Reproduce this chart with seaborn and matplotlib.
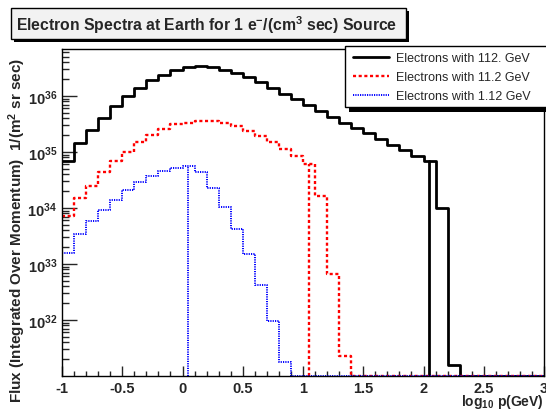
import numpy as np
import pandas as pd
import matplotlib
matplotlib.use("Agg")
import matplotlib.pyplot as plt
import seaborn as sns
from matplotlib.lines import Line2D
from matplotlib.patches import Rectangle
from matplotlib.ticker import FixedLocator, LogLocator, MultipleLocator, NullFormatter, FuncFormatter

# binning in log10 p(GeV): 40 bins, 0.1 wide
n_bins = 40
logp_range = (-1.0, 3.0)
bin_edges = np.linspace(logp_range[0], logp_range[1], n_bins + 1)

source_energy_gev = [112.0, 11.2, 1.12]
series_labels = ["Electrons with 112. GeV", "Electrons with 11.2 GeV", "Electrons with 1.12 GeV"]

# flux per bin (0 = empty bin)
flux_112 = [6.9e34, 1.43e35, 2.5e35, 4.1e35, 6.5e35, 9.8e35, 1.41e36, 1.9e36, 2.37e36, 2.88e36,
            3.24e36, 3.39e36, 3.24e36, 2.88e36, 2.57e36, 2.19e36, 1.78e36, 1.41e36, 1.1e36, 8.7e35,
            6.8e35, 5.4e35, 4.2e35, 3.35e35, 2.72e35, 2.14e35, 1.7e35, 1.32e35, 1.1e35, 8.5e34,
            6.9e34, 9.8e33, 1.6e31, 0, 0, 0, 0, 0, 0, 0]
flux_11 = [7.2e33, 1.48e34, 2.5e34, 4.4e34, 6.8e34, 1.02e35, 1.48e35, 2.04e35, 2.57e35, 3.16e35,
           3.35e35, 3.6e35, 3.63e35, 3.3e35, 2.9e35, 2.37e35, 1.95e35, 1.48e35, 1.12e35, 8.5e34,
           6.0e34, 1.62e34, 6.6e32, 2.3e31, 0, 0, 0, 0, 0, 0,
           0, 0, 0, 0, 0, 0, 0, 0, 0, 0]
flux_1 = [1.58e33, 3.4e33, 5.8e33, 9.1e33, 1.38e34, 2.1e34, 2.9e34, 3.7e34, 4.6e34, 5.2e34,
          5.6e34, 4.4e34, 2.3e34, 1.05e34, 4.3e33, 1.48e33, 4.2e32, 9.5e31, 1.8e31, 0,
          0, 0, 0, 0, 0, 0, 0, 0, 0, 0,
          0, 0, 0, 0, 0, 0, 0, 0, 0, 0]

y_min, y_max = 1e31, 6.9e36

sns.set_style("ticks")
plt.rcParams["font.family"] = ["Liberation Sans", "DejaVu Sans"]
plt.rcParams["mathtext.fontset"] = "custom"
plt.rcParams["mathtext.rm"] = "Liberation Sans"
plt.rcParams["mathtext.it"] = "Liberation Sans:italic"
plt.rcParams["mathtext.bf"] = "Liberation Sans:bold"
plt.rcParams["axes.unicode_minus"] = False

W, H = 546, 410
fig = plt.figure(figsize=(W / 100, H / 100), dpi=100)
ax = fig.add_axes([62 / W, 1 - 377 / H, (544 - 62) / W, (377 - 50) / H])
ax.set_yscale("log")

styles = [
    dict(color="black", linewidth=2.0, linestyle="-"),
    dict(color="#ff0000", linewidth=1.7, linestyle=(0, (1.3, 1.1))),
    dict(color="#0000ff", linewidth=1.4, linestyle=(0, (0.6, 0.6))),
]

centers = (bin_edges[:-1] + bin_edges[1:]) / 2
for flux, e0, st in zip([flux_112, flux_11, flux_1], source_energy_gev, styles):
    flux = np.array(flux, dtype=float)
    df = pd.DataFrame({"logp": centers, "flux": np.where(flux > 0, flux, y_min)})
    sns.histplot(data=df, x="logp", weights="flux", bins=n_bins, binrange=logp_range,
                 element="step", fill=False, ax=ax, **st)
    # empty slot right at the source momentum
    lp = np.log10(e0)
    i = np.searchsorted(bin_edges, lp) - 1
    ax.plot([lp, lp], [y_min, flux[i]], **st)

ax.set_xlim(*logp_range)
ax.set_ylim(y_min, y_max)
ax.set_xlabel("")
ax.set_ylabel("")

ax.xaxis.set_major_locator(MultipleLocator(0.5))
ax.xaxis.set_minor_locator(MultipleLocator(0.1))
ax.xaxis.set_major_formatter(FuncFormatter(lambda v, p: f"{v:g}"))
ax.yaxis.set_major_locator(FixedLocator([1e32, 1e33, 1e34, 1e35, 1e36]))
ax.yaxis.set_minor_locator(LogLocator(base=10, subs=np.arange(2, 10), numticks=20))
ax.yaxis.set_major_formatter(FuncFormatter(lambda v, p: r"$\mathbf{10^{%d}}$" % round(np.log10(v))))
ax.yaxis.set_minor_formatter(NullFormatter())

ax.tick_params(which="both", direction="in", top=False, right=False, width=1,
               labelsize=10.5, pad=3.5)
ax.tick_params(axis="y", which="major", length=10.8)
ax.tick_params(axis="y", which="minor", length=5)
ax.tick_params(axis="x", which="major", length=7)
ax.tick_params(axis="x", which="minor", length=3.6)
plt.setp(ax.get_xticklabels(), fontweight="bold")
for sp in ax.spines.values():
    sp.set_linewidth(1)
    sp.set_color("black")


def px_rect(x0, y0, x1, y1, **kw):
    return Rectangle((x0 / W, 1 - y1 / H), (x1 - x0) / W, (y1 - y0) / H,
                     transform=fig.transFigure, **kw)


# title box with shadow
fig.add_artist(px_rect(14, 12, 409, 43, facecolor="black", edgecolor="none", zorder=3))
fig.add_artist(px_rect(11, 9, 406, 40, facecolor="#f2f2f2", edgecolor="black", linewidth=1, zorder=3.1))
fig.text(16 / W, 1 - 25.5 / H,
         r"Electron Spectra at Earth for 1 e$^{\mathbf{-}}$/(cm$^{\mathbf{3}}$ sec) Source",
         ha="left", va="center", fontsize=11.3, fontweight="bold", zorder=4)

# legend box with shadow
fig.add_artist(px_rect(349, 52, 552, 113, facecolor="black", edgecolor="none", zorder=3))
fig.add_artist(px_rect(345, 47, 548, 108, facecolor="white", edgecolor="black", linewidth=1, zorder=3.1))
handles = [Line2D([], [], **st) for st in styles]
leg = fig.legend(handles, series_labels, loc="center left",
                 bbox_to_anchor=(353 / W, 1 - 78 / H), bbox_transform=fig.transFigure,
                 frameon=False, fontsize=9, handlelength=2.9, handletextpad=0.55,
                 labelspacing=0.55, borderpad=0, borderaxespad=0)
leg.set_zorder(5)

fig.text(17 / W, 1 - 58 / H,
         r"Flux (Integrated Over Momentum)  1/(m$^{\mathbf{2}}$ sr sec)",
         rotation=90, ha="center", va="top", fontsize=11, fontweight="bold")
fig.text(544 / W, 1 - 406.5 / H, r"log$_{\mathbf{10}}$ p(GeV)",
         ha="right", va="baseline", fontsize=10, fontweight="bold")

fig.savefig("out.png", dpi=100)
